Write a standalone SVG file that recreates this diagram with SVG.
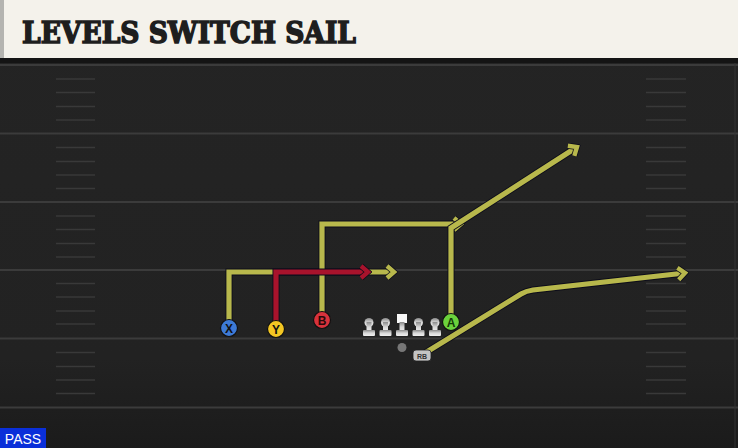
<svg xmlns="http://www.w3.org/2000/svg" width="738" height="448" viewBox="0 0 738 448">
<defs>
<linearGradient id="field" x1="0" y1="0" x2="0" y2="1">
<stop offset="0" stop-color="#242424"/>
<stop offset="0.8" stop-color="#222222"/>
<stop offset="1" stop-color="#1b1b1b"/>
</linearGradient>
<linearGradient id="lm" x1="0" y1="0" x2="0" y2="1">
<stop offset="0" stop-color="#8a8a8a"/>
<stop offset="0.5" stop-color="#d8d8d8"/>
<stop offset="1" stop-color="#f0f0f0"/>
</linearGradient>
<marker id="ay" viewBox="-12 -10 16 20" markerWidth="16" markerHeight="20" refX="0" refY="0" orient="auto" markerUnits="userSpaceOnUse">
<path d="M-7,-6 L0,0 L-7,6" fill="none" stroke="#0d0d1a" stroke-width="6" stroke-linejoin="miter"/>
<path d="M-7,-6 L0,0 L-7,6" fill="none" stroke="#b8b84c" stroke-width="4.4" stroke-linejoin="miter"/>
</marker>
<marker id="ar" viewBox="-12 -10 16 20" markerWidth="16" markerHeight="20" refX="0" refY="0" orient="auto" markerUnits="userSpaceOnUse">
<path d="M-7,-6 L0,0 L-7,6" fill="none" stroke="#0d0d1a" stroke-width="6" stroke-linejoin="miter"/>
<path d="M-7,-6 L0,0 L-7,6" fill="none" stroke="#a8132c" stroke-width="4.4" stroke-linejoin="miter"/>
</marker>
</defs>
<style>
.major{stroke:#3b3b3b;stroke-width:2}
.rt{fill:none;stroke-width:5.2;stroke-linejoin:miter}
.ry{stroke:#b8b84c}
.rr{stroke:#a8132c}
.shadow{fill:none;stroke:#0d0d1a;stroke-width:7;stroke-linejoin:miter}
.pl{stroke:#111;stroke-width:1.2}
.lbl{font-family:"Liberation Sans",Arial,sans-serif;font-weight:bold;font-size:12px;text-anchor:middle}
.lm{fill:url(#lm)}
</style>
<rect x="0" y="0" width="738" height="448" fill="url(#field)"/>
<g id="field-lines">
<line class="major" x1="0" y1="65" x2="738" y2="65"/>
<line class="major" x1="0" y1="133.5" x2="738" y2="133.5"/>
<line class="major" x1="0" y1="202" x2="738" y2="202"/>
<line class="major" x1="0" y1="270" x2="738" y2="270"/>
<line class="major" x1="0" y1="338.5" x2="738" y2="338.5"/>
<line class="major" x1="0" y1="407.5" x2="738" y2="407.5"/>
<path d="M56,79H95M56,92.5H95M56,106.5H95M56,120H95M56,147.5H95M56,161.5H95M56,175H95M56,188.5H95M56,216H95M56,229.5H95M56,243.5H95M56,257H95M56,283.5H95M56,297H95M56,311H95M56,324H95M56,352.5H95M56,366.5H95M56,380H95M56,393.5H95" stroke="#393939" stroke-width="1.6"/>
<path d="M646,79H686M646,92.5H686M646,106.5H686M646,120H686M646,147.5H686M646,161.5H686M646,175H686M646,188.5H686M646,216H686M646,229.5H686M646,243.5H686M646,257H686M646,283.5H686M646,297H686M646,311H686M646,324H686M646,352.5H686M646,366.5H686M646,380H686M646,393.5H686" stroke="#393939" stroke-width="1.6"/>
<line x1="735" y1="63" x2="735" y2="448" stroke="#333" stroke-width="1"/>
</g>
<g id="header">
<rect x="0" y="0" width="738" height="58" fill="#f4f2eb"/>
<rect x="0" y="0" width="4" height="58" fill="#b4b4b0"/>
<rect x="0" y="58" width="738" height="5" fill="#141414"/>
<text x="22" y="43" font-family="'DejaVu Serif',serif" font-weight="bold" font-size="30" fill="#1e1e1e" stroke="#1e1e1e" stroke-width="1.6" stroke-linejoin="miter" textLength="334" lengthAdjust="spacingAndGlyphs">LEVELS SWITCH SAIL</text>
</g>
<g id="connectors">
<path class="shadow" d="M229,320V272H394"/>
<path class="rt ry" d="M229,320V272H394" marker-end="url(#ay)"/>
<path class="shadow" d="M322,312V224H461"/>
<path class="rt ry" d="M322,312V224H461" marker-end="url(#ay)"/>
<path class="shadow" d="M451,314V228L577,147"/>
<path class="rt ry" d="M451,314V228L577,147" marker-end="url(#ay)"/>
<path class="shadow" d="M425,353L521,294Q526,291 533,290L685,273"/>
<path class="rt ry" d="M425,353L521,294Q526,291 533,290L685,273" marker-end="url(#ay)"/>
<path class="shadow" d="M276,321V272H368"/>
<path class="rt rr" d="M276,321V272H368" marker-end="url(#ar)"/>
</g>
<g id="X"><circle class="pl" cx="229" cy="328" r="8.5" fill="#3d7ad6"/><text class="lbl" x="229" y="332.5" fill="#111">X</text></g>
<g id="Y"><circle class="pl" cx="276" cy="329" r="8.5" fill="#f3c623"/><text class="lbl" x="276" y="333.5" fill="#111">Y</text></g>
<g id="B"><circle class="pl" cx="322" cy="320" r="8.5" fill="#d8323c"/><text class="lbl" x="322" y="324.5" fill="#2a0a0a">B</text></g>
<g id="A"><circle class="pl" cx="451" cy="322" r="8.5" fill="#6bd23c"/><text class="lbl" x="451" y="326.5" fill="#143a08">A</text></g>
<g id="LT"><circle class="lm" cx="369" cy="322.5" r="4.5"/><rect class="lm" x="366.5" y="322" width="5" height="10"/><rect class="lm" x="363" y="330" width="12" height="6" rx="1"/></g>
<g id="LG"><circle class="lm" cx="385.5" cy="322.5" r="4.5"/><rect class="lm" x="383" y="322" width="5" height="10"/><rect class="lm" x="379.5" y="330" width="12" height="6" rx="1"/></g>
<g id="C"><rect x="397" y="314" width="10" height="9" fill="#f8f8f8"/><rect class="lm" x="399.5" y="322" width="5" height="10"/><rect class="lm" x="396" y="330" width="12" height="6" rx="1"/></g>
<g id="RG"><circle class="lm" cx="418.5" cy="322.5" r="4.5"/><rect class="lm" x="416" y="322" width="5" height="10"/><rect class="lm" x="412.5" y="330" width="12" height="6" rx="1"/></g>
<g id="RT"><circle class="lm" cx="435" cy="322.5" r="4.5"/><rect class="lm" x="432.5" y="322" width="5" height="10"/><rect class="lm" x="429" y="330" width="12" height="6" rx="1"/></g>
<g id="QB"><circle cx="402" cy="347.5" r="4.5" fill="#777"/></g>
<g id="RB"><rect x="413" y="350" width="18" height="11" rx="3" fill="#c4c4c4" stroke="#222" stroke-width="0.8"/><text x="422" y="358.5" font-family="'Liberation Sans',Arial,sans-serif" font-weight="bold" font-size="7" text-anchor="middle" fill="#333">RB</text></g>
<g id="pass"><rect x="0" y="428" width="46" height="20" fill="#0a2fd9"/><text x="23" y="444" font-family="'Liberation Sans',Arial,sans-serif" font-size="14" text-anchor="middle" fill="#fff">PASS</text></g>
</svg>
